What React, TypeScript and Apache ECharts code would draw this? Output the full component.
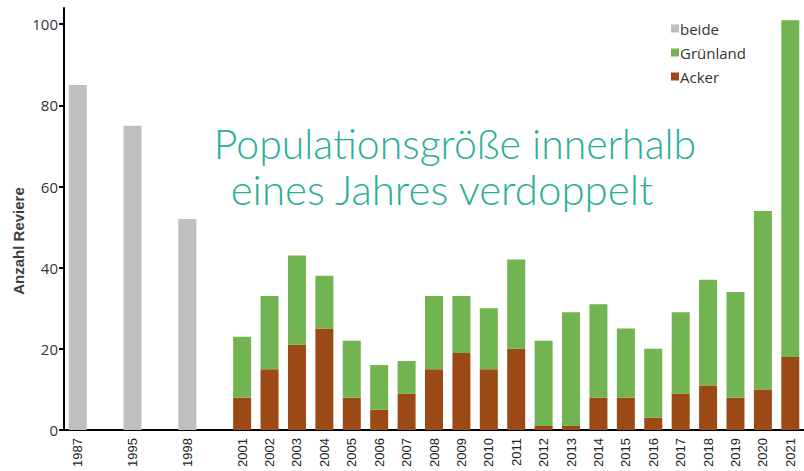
import React, { useEffect, useRef } from "react";
import * as echarts from "echarts";

const categories = [
  "1987", " ", "1995", "  ", "1998", "   ",
  "2001", "2002", "2003", "2004", "2005", "2006", "2007", "2008", "2009", "2010",
  "2011", "2012", "2013", "2014", "2015", "2016", "2017", "2018", "2019", "2020", "2021",
];
const beide = [85, null, 75, null, 52, null,
  null, null, null, null, null, null, null, null, null, null,
  null, null, null, null, null, null, null, null, null, null, null];
const acker = [null, null, null, null, null, null,
  8, 15, 21, 25, 8, 5, 9, 15, 19, 15,
  20, 1, 1, 8, 8, 3, 9, 11, 8, 10, 18];
const gruenland = [null, null, null, null, null, null,
  15, 18, 22, 13, 14, 11, 8, 18, 14, 15,
  22, 21, 28, 23, 17, 17, 20, 26, 26, 44, 83];
const yTicks = [0, 20, 40, 60, 80, 100];
const titleLines = ["Populationsgröße innerhalb", "eines Jahres verdoppelt"];

export default function App() {
  const ref = useRef<HTMLDivElement>(null);
  useEffect(() => {
    if (!ref.current) return;
    const chart = echarts.init(ref.current, null, { renderer: "svg" });
    chart.setOption({
      animation: false,
      backgroundColor: "#ffffff",
      grid: { left: 64, right: 0, top: 8, bottom: 41 },
      legend: {
        orient: "vertical",
        left: 666,
        top: 16,
        itemWidth: 8,
        itemHeight: 8,
        itemGap: 9,
        icon: "rect",
        textStyle: { fontFamily: "Open Sans", fontSize: 15, color: "#333", padding: [0, 0, 0, -4] },
        data: ["beide", "Grünland", "Acker"],
      },
      xAxis: {
        type: "category",
        data: categories,
        axisLine: { lineStyle: { color: "#000", width: 2 } },
        axisTick: { length: 5, lineStyle: { color: "#000", width: 2 }, interval: 0 },
        axisLabel: {
          interval: 0,
          rotate: 90,
          margin: 8,
          fontFamily: "Liberation Sans",
          fontSize: 13,
          color: "#222",
        },
      },
      yAxis: {
        type: "value",
        min: 0,
        max: 104,
        interval: 20,
        splitLine: { show: false },
        axisLine: { show: true, lineStyle: { color: "#000", width: 2 } },
        axisTick: { show: true, length: 5, lineStyle: { color: "#000", width: 2 }, customValues: yTicks },
        axisLabel: {
          margin: 6,
          fontFamily: "Open Sans",
          fontSize: 15,
          color: "#333",
          customValues: yTicks,
        },
      },
      graphic: [
        {
          type: "text",
          x: 18,
          y: 241,
          rotation: Math.PI / 2,
          style: {
            text: "Anzahl Reviere",
            fontFamily: "Liberation Sans",
            fontWeight: "bold",
            fontSize: 15,
            fill: "#404040",
            align: "center",
            verticalAlign: "middle",
          },
        },
        {
          type: "text",
          x: 455,
          y: 143,
          style: {
            text: titleLines[0],
            fontFamily: "Lato",
            fontWeight: 300,
            fontSize: 41,
            fill: "#2aae98",
            align: "center",
            verticalAlign: "middle",
          },
        },
        {
          type: "text",
          x: 442,
          y: 189,
          style: {
            text: titleLines[1],
            fontFamily: "Lato",
            fontWeight: 300,
            fontSize: 42,
            fill: "#2aae98",
            align: "center",
            verticalAlign: "middle",
          },
        },
      ],
      series: [
        { name: "beide", type: "bar", stack: "s", barWidth: 18, data: beide, itemStyle: { color: "#bfbfbf" } },
        { name: "Acker", type: "bar", stack: "s", barWidth: 18, data: acker, itemStyle: { color: "#9b4a15" } },
        { name: "Grünland", type: "bar", stack: "s", barWidth: 18, data: gruenland, itemStyle: { color: "#71b451" } },
      ],
    });
    return () => chart.dispose();
  }, []);
  return (
    <div
      ref={ref}
      style={{ position: "fixed", left: 0, top: 0, width: 804, height: 471 }}
    />
  );
}
